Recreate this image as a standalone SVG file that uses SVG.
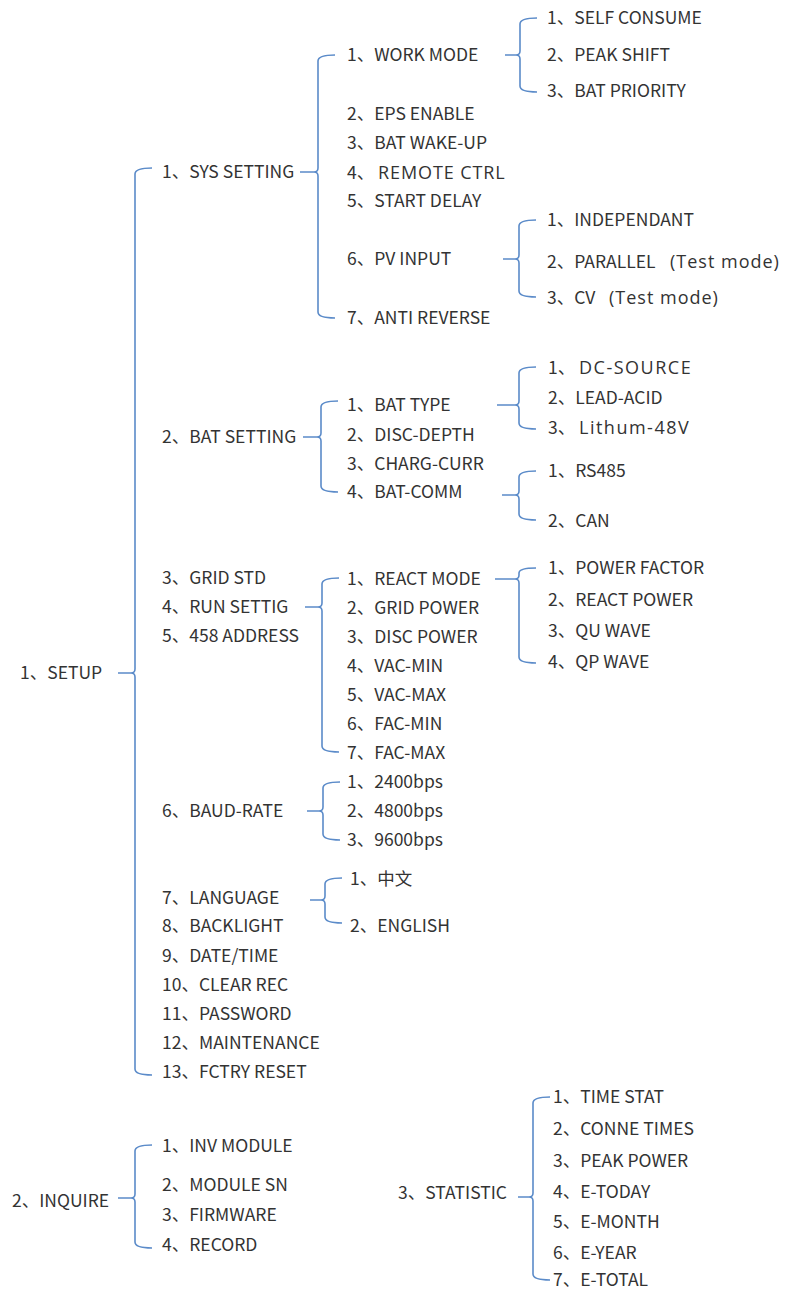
<svg xmlns="http://www.w3.org/2000/svg" width="786" height="1291" viewBox="0 0 786 1291">
<style>
text{font-family:"Noto Sans CJK SC","Noto Sans",sans-serif;font-size:17.5px;fill:#333}
.w{font-family:"Open Sans","Noto Sans CJK SC",sans-serif;font-size:18px;letter-spacing:1.5px}
.r{font-family:"Open Sans","Noto Sans CJK SC",sans-serif;font-size:18px;letter-spacing:0.9px}
.t{font-family:"Open Sans","Noto Sans CJK SC",sans-serif;font-size:18px;letter-spacing:1px}
.b{fill:none;stroke:#5b8bc9;stroke-width:1.6}
</style>
<rect width="786" height="1291" fill="#fff"/>
<g id="connectors">
<path class="b" d="M152 168 Q135 168 135 174 V669 Q135 673 131 673 H118 M131 673 Q135 673 135 677 V1069 Q135 1075 152 1075"/>
<path class="b" d="M335 55 Q318 55 318 61 V168 Q318 172 314 172 H300 M314 172 Q318 172 318 176 V312 Q318 318 335 318"/>
<path class="b" d="M537 18 Q520 18 520 24 V51 Q520 55 516 55 H505 M516 55 Q520 55 520 59 V86 Q520 92 537 92"/>
<path class="b" d="M536 220 Q519 220 519 226 V255 Q519 259 515 259 H503 M515 259 Q519 259 519 263 V291 Q519 297 536 297"/>
<path class="b" d="M338 401 Q321 401 321 407 V433 Q321 437 317 437 H303 M317 437 Q321 437 321 441 V486 Q321 492 338 492"/>
<path class="b" d="M536 367 Q519 367 519 373 V401 Q519 405 515 405 H497 M515 405 Q519 405 519 409 V423 Q519 429 536 429"/>
<path class="b" d="M536 471 Q519 471 519 477 V491 Q519 495 515 495 H502 M515 495 Q519 495 519 499 V514 Q519 520 536 520"/>
<path class="b" d="M339 578 Q322 578 322 584 V603 Q322 607 318 607 H305 M318 607 Q322 607 322 611 V746 Q322 752 339 752"/>
<path class="b" d="M536 568 Q519 568 519 573 V575 Q519 579 515 579 H495 M515 579 Q519 579 519 583 V657 Q519 663 536 663"/>
<path class="b" d="M340 782 Q323 782 323 788 V807 Q323 811 319 811 H307 M319 811 Q323 811 323 815 V834 Q323 840 340 840"/>
<path class="b" d="M342 878 Q325 878 325 884 V896 Q325 900 321 900 H310 M321 900 Q325 900 325 904 V917 Q325 923 342 923"/>
<path class="b" d="M152 1145 Q135 1145 135 1151 V1194 Q135 1198 131 1198 H118 M131 1198 Q135 1198 135 1202 V1242 Q135 1248 152 1248"/>
<path class="b" d="M550 1097 Q533 1097 533 1103 V1193 Q533 1197 529 1197 H518 M529 1197 Q533 1197 533 1201 V1274 Q533 1280 550 1280"/>
</g>
<g id="setup"><text x="20" y="679">1、SETUP</text></g>
<g id="sys-setting"><text x="162" y="178">1、SYS SETTING</text></g>
<g id="work-mode"><text x="347" y="61">1、WORK MODE</text></g>
<g id="self-consume"><text x="547" y="24">1、SELF CONSUME</text></g>
<g id="peak-shift"><text x="547" y="61">2、PEAK SHIFT</text></g>
<g id="bat-priority"><text x="547" y="97">3、BAT PRIORITY</text></g>
<g id="eps-enable"><text x="347" y="120">2、EPS ENABLE</text></g>
<g id="bat-wake-up"><text x="347" y="149">3、BAT WAKE-UP</text></g>
<g id="remote-ctrl"><text x="347" y="179">4、<tspan class="r" x="378">REMOTE CTRL</tspan></text></g>
<g id="start-delay"><text x="347" y="207">5、START DELAY</text></g>
<g id="pv-input"><text x="347" y="265">6、PV INPUT</text></g>
<g id="independant"><text x="547" y="226">1、INDEPENDANT</text></g>
<g id="parallel"><text x="547" y="268">2、PARALLEL<tspan class="t" x="670">(Test mode)</tspan></text></g>
<g id="cv"><text x="547" y="304">3、CV<tspan class="t" x="609">(Test mode)</tspan></text></g>
<g id="anti-reverse"><text x="347" y="324">7、ANTI REVERSE</text></g>
<g id="bat-setting"><text x="162" y="443">2、BAT SETTING</text></g>
<g id="bat-type"><text x="347" y="411">1、BAT TYPE</text></g>
<g id="dc-source"><text x="548" y="374">1、<tspan class="w" x="579">DC-SOURCE</tspan></text></g>
<g id="lead-acid"><text x="548" y="404">2、LEAD-ACID</text></g>
<g id="lithum"><text x="548" y="434">3、<tspan class="w" x="579">Lithum-48V</tspan></text></g>
<g id="disc-depth"><text x="347" y="441">2、DISC-DEPTH</text></g>
<g id="charg-curr"><text x="347" y="470">3、CHARG-CURR</text></g>
<g id="bat-comm"><text x="347" y="498">4、BAT-COMM</text></g>
<g id="rs485"><text x="548" y="477">1、RS485</text></g>
<g id="can"><text x="548" y="527">2、CAN</text></g>
<g id="grid-std"><text x="162" y="584">3、GRID STD</text></g>
<g id="run-settig"><text x="162" y="613">4、RUN SETTIG</text></g>
<g id="address"><text x="162" y="642">5、458 ADDRESS</text></g>
<g id="react-mode"><text x="347" y="585">1、REACT MODE</text></g>
<g id="power-factor"><text x="548" y="574">1、POWER FACTOR</text></g>
<g id="react-power"><text x="548" y="606">2、REACT POWER</text></g>
<g id="qu-wave"><text x="548" y="637">3、QU WAVE</text></g>
<g id="qp-wave"><text x="548" y="668">4、QP WAVE</text></g>
<g id="grid-power"><text x="347" y="614">2、GRID POWER</text></g>
<g id="disc-power"><text x="347" y="643">3、DISC POWER</text></g>
<g id="vac-min"><text x="347" y="672">4、VAC-MIN</text></g>
<g id="vac-max"><text x="347" y="701">5、VAC-MAX</text></g>
<g id="fac-min"><text x="347" y="730">6、FAC-MIN</text></g>
<g id="fac-max"><text x="347" y="759">7、FAC-MAX</text></g>
<g id="baud-rate"><text x="162" y="817">6、BAUD-RATE</text></g>
<g id="b2400"><text x="347" y="788">1、2400bps</text></g>
<g id="b4800"><text x="347" y="817">2、4800bps</text></g>
<g id="b9600"><text x="347" y="846">3、9600bps</text></g>
<g id="language"><text x="162" y="904">7、LANGUAGE</text></g>
<g id="chinese"><text x="350" y="885">1、中文</text></g>
<g id="english"><text x="350" y="932">2、ENGLISH</text></g>
<g id="backlight"><text x="162" y="932">8、BACKLIGHT</text></g>
<g id="date-time"><text x="162" y="962">9、DATE/TIME</text></g>
<g id="clear-rec"><text x="162" y="991">10、CLEAR REC</text></g>
<g id="password"><text x="162" y="1020">11、PASSWORD</text></g>
<g id="maintenance"><text x="162" y="1049">12、MAINTENANCE</text></g>
<g id="fctry-reset"><text x="162" y="1078">13、FCTRY RESET</text></g>
<g id="inquire"><text x="12" y="1207">2、INQUIRE</text></g>
<g id="inv-module"><text x="162" y="1152">1、INV MODULE</text></g>
<g id="module-sn"><text x="162" y="1191">2、MODULE SN</text></g>
<g id="firmware"><text x="162" y="1221">3、FIRMWARE</text></g>
<g id="record"><text x="162" y="1251">4、RECORD</text></g>
<g id="statistic"><text x="398" y="1199">3、STATISTIC</text></g>
<g id="time-stat"><text x="553" y="1103">1、TIME STAT</text></g>
<g id="conne-times"><text x="553" y="1135">2、CONNE TIMES</text></g>
<g id="peak-power"><text x="553" y="1167">3、PEAK POWER</text></g>
<g id="e-today"><text x="553" y="1198">4、E-TODAY</text></g>
<g id="e-month"><text x="553" y="1228">5、E-MONTH</text></g>
<g id="e-year"><text x="553" y="1259">6、E-YEAR</text></g>
<g id="e-total"><text x="553" y="1286">7、E-TOTAL</text></g>
</svg>
